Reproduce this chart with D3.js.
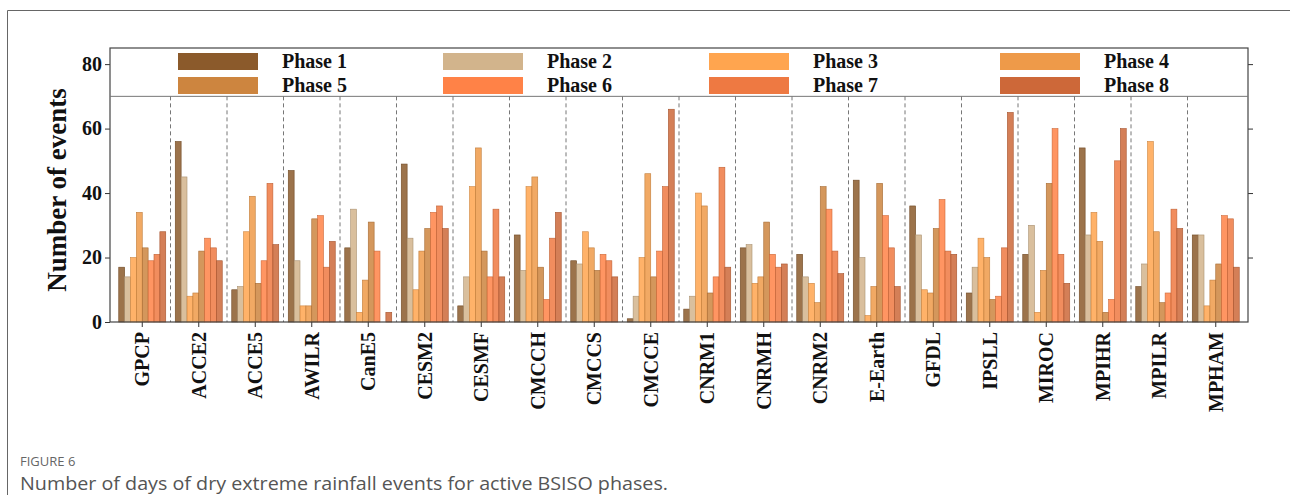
<!DOCTYPE html>
<html>
<head>
<meta charset="utf-8">
<script src="https://cdn.jsdelivr.net/npm/d3@7"></script>
<style>
  body { margin: 0; background: #fff; }
  svg { display: block; }
</style>
</head>
<body>
<svg id="chart"></svg>
<script>
// data
const models = ['GPCP', 'ACCE2', 'ACCE5', 'AWILR', 'CanE5', 'CESM2', 'CESMF', 'CMCCH', 'CMCCS', 'CMCCE',
  'CNRM1', 'CNRMH', 'CNRM2', 'E-Earth', 'GFDL', 'IPSLL', 'MIROC', 'MPIHR', 'MPILR', 'MPHAM'];
const phases = ['Phase 1', 'Phase 2', 'Phase 3', 'Phase 4', 'Phase 5', 'Phase 6', 'Phase 7', 'Phase 8'];
const phase1 = [17, 56, 10, 47, 23, 49, 5, 27, 19, 1, 4, 23, 21, 44, 36, 9, 21, 54, 11, 27];
const phase2 = [14, 45, 11, 19, 35, 26, 14, 16, 18, 8, 8, 24, 14, 20, 27, 17, 30, 27, 18, 27];
const phase3 = [20, 8, 28, 5, 3, 10, 42, 42, 28, 20, 40, 12, 12, 2, 10, 26, 3, 34, 56, 5];
const phase4 = [34, 9, 39, 5, 13, 22, 54, 45, 23, 46, 36, 14, 6, 11, 9, 20, 16, 25, 28, 13];
const phase5 = [23, 22, 12, 32, 31, 29, 22, 17, 16, 14, 9, 31, 42, 43, 29, 7, 43, 3, 6, 18];
const phase6 = [19, 26, 19, 33, 22, 34, 14, 7, 21, 22, 14, 21, 35, 33, 38, 8, 60, 7, 9, 33];
const phase7 = [21, 23, 43, 17, 0, 36, 35, 26, 19, 42, 48, 17, 22, 23, 22, 23, 21, 50, 35, 32];
const phase8 = [28, 19, 24, 25, 3, 29, 14, 34, 14, 66, 17, 18, 15, 11, 21, 65, 12, 60, 29, 17];
const yTicks = [0, 20, 40, 60, 80];
const colors = ['#8B5A2B', '#D2B48C', '#FFA54F', '#EE9A49', '#CD853F', '#FF8247', '#EE7942', '#CD6839'];

const series = [phase1, phase2, phase3, phase4, phase5, phase6, phase7, phase8];

const width = 1290;
const height = 495;
const serif = '"Liberation Serif", "Times New Roman", serif';

const svg = d3.select('#chart')
  .attr('width', width)
  .attr('height', height);

// card border (top + left)
svg.append('path')
  .attr('d', `M7.5,${height} L7.5,10.5 L${width},10.5`)
  .attr('fill', 'none')
  .attr('stroke', '#666')
  .attr('stroke-width', 1);

const plot = { left: 110, right: 1248, top: 48, bottom: 322 };

const x0 = d3.scaleBand()
  .domain(models)
  .range([plot.left + 4, plot.right - 4]);

const x1 = d3.scaleBand()
  .domain(phases)
  .range([0, x0.bandwidth()])
  .paddingOuter(0.81);

const y = d3.scaleLinear()
  .domain([0, 85])
  .range([plot.bottom, plot.top]);

const legendLineY = y(70);

// dashed separators between models
svg.append('g')
  .selectAll('line')
  .data(models.slice(1))
  .enter().append('line')
  .attr('x1', d => x0(d))
  .attr('x2', d => x0(d))
  .attr('y1', legendLineY)
  .attr('y2', plot.bottom)
  .attr('stroke', '#777')
  .attr('stroke-width', 1)
  .attr('stroke-dasharray', '4,3');

// bars
const rows = [];
models.forEach((m, i) => {
  series.forEach((s, j) => rows.push({ model: m, phase: phases[j], value: s[i], color: colors[j] }));
});

svg.append('g')
  .selectAll('rect')
  .data(rows)
  .enter().append('rect')
  .attr('x', d => x0(d.model) + x1(d.phase))
  .attr('width', x1.bandwidth())
  .attr('y', d => y(d.value))
  .attr('height', d => y(0) - y(d.value))
  .attr('fill', d => d.color)
  .attr('fill-opacity', 0.85)
  .attr('stroke', d => d3.color(d.color).darker(0.6))
  .attr('stroke-width', 0.6);

// axes
const yAxisLeft = svg.append('g')
  .attr('transform', `translate(${plot.left},0)`)
  .call(d3.axisLeft(y).tickValues(yTicks).tickSize(5).tickPadding(3));

const yAxisRight = svg.append('g')
  .attr('transform', `translate(${plot.right},0)`)
  .call(d3.axisRight(y).tickValues(yTicks.slice(1)).tickSize(5).tickFormat(''));

const xAxis = svg.append('g')
  .attr('transform', `translate(0,${plot.bottom})`)
  .call(d3.axisBottom(x0).tickSize(5).tickSizeOuter(0));

[yAxisLeft, yAxisRight, xAxis].forEach(g => {
  g.select('.domain').remove();
  g.selectAll('.tick line').attr('stroke', '#333');
});

yAxisLeft.selectAll('text')
  .attr('font-family', serif)
  .attr('font-weight', 'bold')
  .attr('font-size', 20)
  .attr('fill', '#111');

xAxis.selectAll('text')
  .attr('font-family', serif)
  .attr('font-weight', 'bold')
  .attr('font-size', 20)
  .attr('fill', '#111')
  .attr('text-anchor', 'end')
  .attr('dy', '0.35em')
  .attr('transform', 'translate(0,10) rotate(-90)')
  .attr('x', 0)
  .attr('y', 0);

// plot frame and legend separator
svg.append('rect')
  .attr('x', plot.left)
  .attr('y', plot.top)
  .attr('width', plot.right - plot.left)
  .attr('height', plot.bottom - plot.top)
  .attr('fill', 'none')
  .attr('stroke', '#444')
  .attr('stroke-width', 1.2);

svg.append('line')
  .attr('x1', plot.left)
  .attr('x2', plot.right)
  .attr('y1', legendLineY)
  .attr('y2', legendLineY)
  .attr('stroke', '#777')
  .attr('stroke-width', 1);

// y label
svg.append('text')
  .attr('transform', `translate(66,${(plot.top + plot.bottom) / 2 + 5}) rotate(-90)`)
  .attr('text-anchor', 'middle')
  .attr('font-family', serif)
  .attr('font-weight', 'bold')
  .attr('font-size', 27)
  .attr('fill', '#111')
  .text('Number of events');

// legend, 4 columns x 2 rows
const legendCols = [178, 443, 709, 1000];
const legend = svg.append('g');
const item = legend.selectAll('g')
  .data(phases)
  .enter().append('g')
  .attr('transform', (d, i) => `translate(${legendCols[i % 4]},${i < 4 ? 53 : 77})`);

item.append('rect')
  .attr('width', 80)
  .attr('height', 17)
  .attr('fill', (d, i) => colors[i]);

item.append('text')
  .attr('x', 104)
  .attr('y', 15)
  .attr('font-family', serif)
  .attr('font-weight', 'bold')
  .attr('font-size', 20)
  .attr('fill', '#111')
  .text(d => d);

// caption
svg.append('text')
  .attr('x', 20)
  .attr('y', 466)
  .attr('font-family', '"Open Sans", sans-serif')
  .attr('font-size', 13)
  .attr('fill', '#666')
  .text('FIGURE 6');

svg.append('text')
  .attr('x', 20)
  .attr('y', 490)
  .attr('font-family', '"Open Sans", sans-serif')
  .attr('font-size', 18)
  .attr('fill', '#555')
  .attr('textLength', 648)
  .attr('lengthAdjust', 'spacingAndGlyphs')
  .text('Number of days of dry extreme rainfall events for active BSISO phases.');
</script>
</body>
</html>
